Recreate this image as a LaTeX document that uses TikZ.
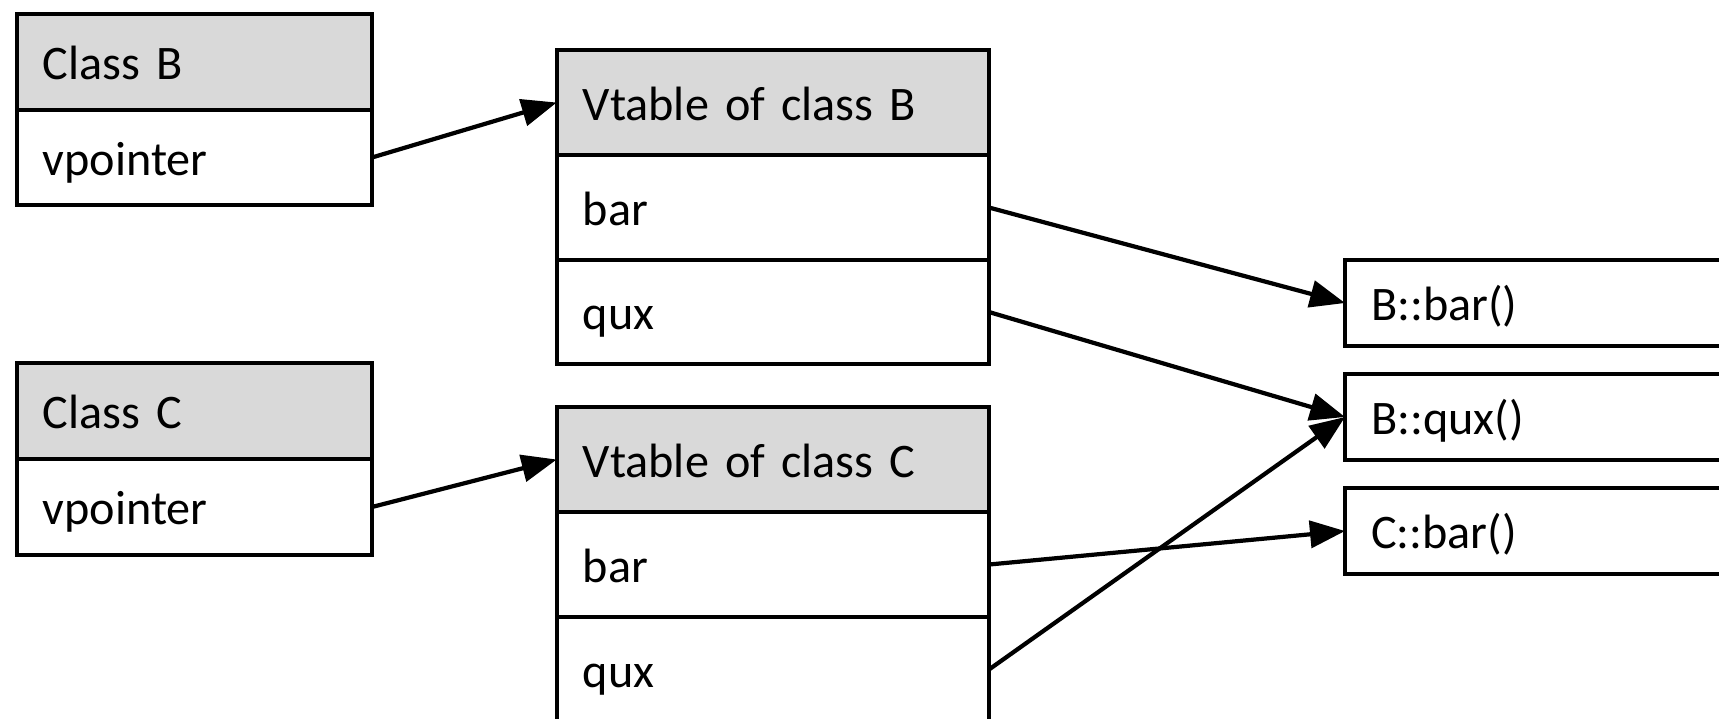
\documentclass[tikz,border=0pt]{standalone}
\usepackage{fontspec}
\setmainfont{Carlito}
\usetikzlibrary{arrows.meta}
\definecolor{hdrgray}{RGB}{217,217,217}
\begin{document}
\begin{tikzpicture}[x=0.01cm, y=-0.01cm,
  font=\fontsize{13.7pt}{16.5pt}\selectfont,
  cell/.style={draw=black, line width=1.2pt, rectangle, outer sep=0pt,
    inner xsep=0.26cm, inner ysep=0pt, align=left, text height=0.35cm,
    text depth=0pt, anchor=north west, fill=white},
  head/.style={cell, fill=hdrgray},
  clsw/.style={text width=3.03cm, minimum width=3.55cm},
  vtw/.style={text width=3.80cm, minimum width=4.32cm},
  fnw/.style={text width=3.68cm, minimum width=4.20cm, minimum height=0.86cm},
  link/.style={line width=1.2pt, -{Triangle[length=0.35cm, width=0.27cm]}}]

\useasboundingbox (0,0) rectangle (1719,719);

% class objects
\node[head, clsw, minimum height=0.96cm] (cbh) at (16.7,14) {Class B};
\node[cell, clsw, minimum height=0.95cm] (cbv) at (16.7,110) {vpointer};
\node[head, clsw, minimum height=0.96cm] (cch) at (16.7,363) {Class C};
\node[cell, clsw, minimum height=0.96cm] (ccv) at (16.7,459) {vpointer};

% vtables
\node[head, vtw, minimum height=1.05cm] (vbh) at (556.7,50) {Vtable of class B};
\node[cell, vtw, minimum height=1.05cm] (vbbar) at (556.7,155) {bar};
\node[cell, vtw, minimum height=1.04cm] (vbqux) at (556.7,260) {qux};
\node[head, vtw, minimum height=1.05cm] (vch) at (556.7,407) {Vtable of class C};
\node[cell, vtw, minimum height=1.05cm] (vcbar) at (556.7,512) {bar};
\node[cell, vtw, minimum height=1.05cm] (vcqux) at (556.7,617) {qux};

% functions
\node[cell, fnw] (fbbar) at (1345,260) {B::bar()};
\node[cell, fnw] (fbqux) at (1345,374) {B::qux()};
\node[cell, fnw] (fcbar) at (1345,488) {C::bar()};

% pointers
\draw[link] (cbv.east) -- (vbh.west);
\draw[link] (ccv.east) -- (vch.west);
\draw[link] (vbbar.east) -- (fbbar.west);
\draw[link] (vbqux.east) -- (fbqux.west);
\draw[link] (vcbar.east) -- (fcbar.west);
\draw[link] (vcqux.east) -- (fbqux.west);
\end{tikzpicture}
\end{document}
